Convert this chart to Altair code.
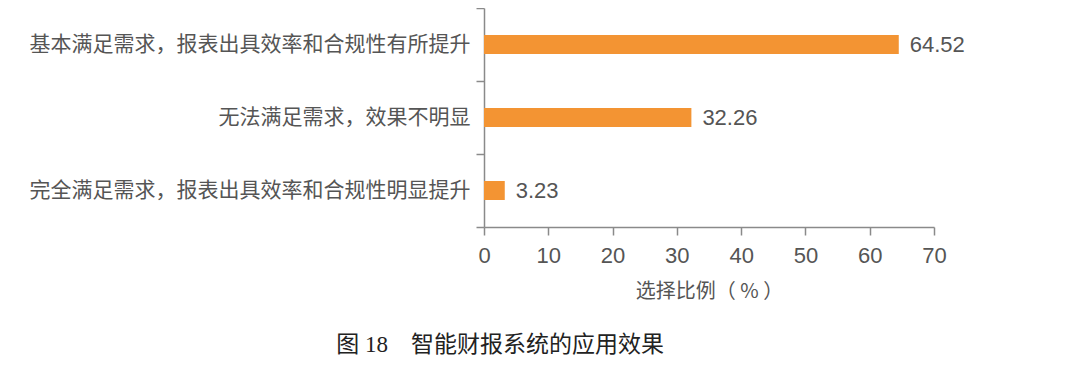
import altair as alt
import pandas as pd

categories = [
    "基本满足需求，报表出具效率和合规性有所提升",
    "无法满足需求，效果不明显",
    "完全满足需求，报表出具效率和合规性明显提升",
]
values = [64.52, 32.26, 3.23]
x_ticks = [0, 10, 20, 30, 40, 50, 60, 70]

df = pd.DataFrame({"cat": categories, "val": values, "lab": [f"{v:.2f}" for v in values]})

FONT = "Noto Sans CJK SC"
NUMFONT = "Liberation Sans"
GRAY = "#555555"
AXC = "#8a8a8a"

y = alt.Y("cat:N", sort=categories, title=None,
          scale=alt.Scale(paddingInner=0, paddingOuter=0),
          axis=alt.Axis(tickBand="extent", domainColor=AXC, domainWidth=1.5,
                        tickColor=AXC, tickWidth=1.5, tickSize=8,
                        labelFont=FONT, labelFontSize=21, labelColor=GRAY,
                        labelPadding=6, labelLimit=500))
x = alt.X("val:Q", title="选择比例（ % ）",
          scale=alt.Scale(domain=[0, 70], nice=False),
          axis=alt.Axis(values=x_ticks, grid=False, domainColor=AXC, domainWidth=1.5,
                        tickColor=AXC, tickWidth=1.5, tickSize=8, labelFlush=False,
                        labelFont=NUMFONT, labelFontSize=22, labelColor=GRAY,
                        labelPadding=10, titleFont=FONT, titleFontSize=20,
                        titleColor=GRAY, titleFontWeight="normal", titlePadding=15))

bars = alt.Chart(df).mark_bar(color="#F39433", size=19).encode(x=x, y=y)
text = alt.Chart(df).mark_text(align="left", baseline="middle", dx=11,
                               font=NUMFONT, fontSize=22, color=GRAY).encode(
    x="val:Q", y=alt.Y("cat:N", sort=categories), text="lab:N")

chart = (bars + text).properties(
    width=450, height=219,
    padding={"left": 476, "top": 0, "right": 138, "bottom": 133},
    autosize=alt.AutoSizeParams(type="none"),
    title=alt.TitleParams("图 18　智能财报系统的应用效果", orient="bottom", anchor="middle",
                          frame="group", dx=-209, offset=33,
                          font="Liberation Serif, Noto Sans CJK SC",
                          fontSize=23, fontWeight="normal", color="#222222"),
).configure_view(stroke=None)

chart.save("out.html", embed_options={"renderer": "svg", "actions": False})
